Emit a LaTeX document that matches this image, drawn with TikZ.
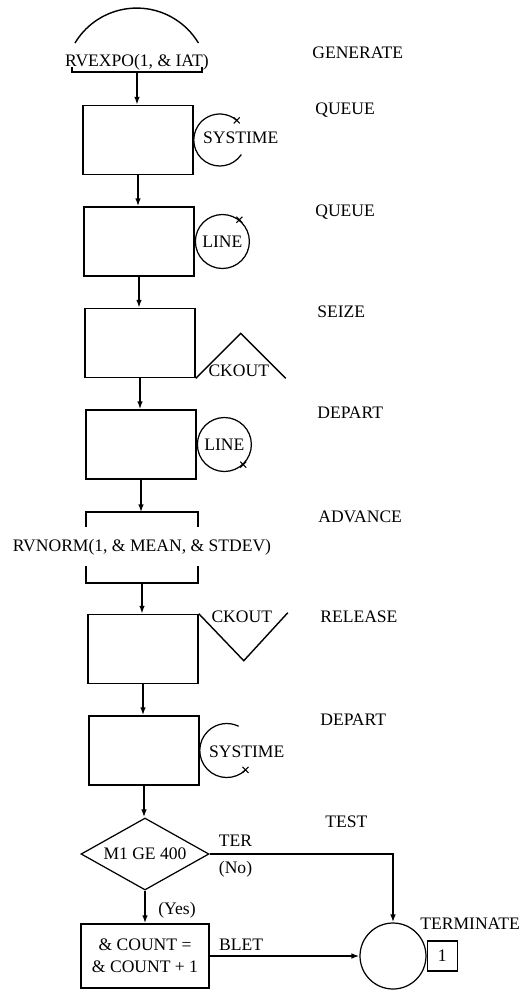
\documentclass[tikz,border=0pt]{standalone}
\usepackage{fontspec}
\setmainfont{Liberation Serif}
\usetikzlibrary{arrows.meta, calc, shapes.geometric}

\tikzset{
  blockbox/.style={draw, line width=0.9pt, minimum width=2.2cm, minimum height=1.38cm, inner sep=0pt},
  lbl/.style={inner sep=0pt},
  ring/.style={line width=0.7pt},
  flow/.style={line width=0.9pt, -{Latex[length=4.5pt,width=3.2pt]}}
}
\newcommand{\crossmark}[1]{\draw[line width=0.6pt] (#1) ++(-3,-3) -- ++(6,6) ++(0,-6) -- ++(-6,6);}

\begin{document}
\begin{tikzpicture}[x=0.02cm, y=-0.02cm, font=\fontsize{10}{12}\selectfont]
  \useasboundingbox (0,0) rectangle (522,992);

  % GENERATE
  \node[lbl] (gen) at (137,62) {RVEXPO(1, \& IAT)};
  \draw[line width=0.8pt] (gen) ++(-62,-19) arc[start angle=211, end angle=329, radius=72];
  \coordinate (genbar) at ($(gen)+(0,10)$);
  \draw[line width=0.8pt] ($(genbar)+(-65,-5)$) -- ($(genbar)+(-65,0)$) -- ($(genbar)+(65,0)$) -- ($(genbar)+(65,-5)$);

  % QUEUE SYSTIME
  \node[blockbox] (q1) at (138,140) {};
  \coordinate (q1c) at ($(q1.east)+(26,0)$);
  \draw[ring] (q1c) ++(34:26) arc[start angle=34, end angle=311, radius=26];
  \crossmark{$(q1c)+(311:26)$}
  \node[lbl, anchor=west] (q1t) at ($(q1.east)+(9,-2)$) {SYSTIME};

  % QUEUE LINE
  \node[blockbox] (q2) at (139,241.5) {};
  \node[lbl, circle, draw, ring, minimum size=1.08cm, anchor=west] (q2c) at (q2.east) {LINE};
  \crossmark{q2c.52}

  % SEIZE CKOUT
  \node[blockbox] (s1) at (140,343) {};
  \draw[line width=0.8pt] (s1.south east) -- ++(45,-45) -- ++(45,45);
  \node[lbl] (s1t) at ($(s1.south east)+(43,-8)$) {CKOUT};

  % DEPART LINE
  \node[blockbox] (d1) at (141,444.5) {};
  \node[lbl, circle, draw, ring, minimum size=1.08cm, anchor=west] (d1c) at (d1.east) {LINE};
  \crossmark{d1c.-47}

  % ADVANCE
  \node[blockbox, draw=none] (adv) at (142,547.5) {};
  \draw[line width=0.9pt] (adv.north west) ++(0,15) -- (adv.north west) -- (adv.north east) -- ++(0,15);
  \draw[line width=0.9pt] (adv.south west) ++(0,-17) -- (adv.south west) -- (adv.south east) -- ++(0,-17);
  \node[lbl] (advt) at (adv) {RVNORM(1, \& MEAN, \& STDEV)};

  % RELEASE CKOUT
  \node[blockbox] (r1) at (143,649) {};
  \draw[line width=0.8pt] (r1.north east) -- ++(45,47) -- ++(44,-48);
  \node[lbl] (r1t) at ($(r1.north east)+(43,3)$) {CKOUT};

  % DEPART SYSTIME
  \node[blockbox] (d2) at (144,750.5) {};
  \coordinate (d2c) at ($(d2.east)+(27,0)$);
  \draw[ring] (d2c) ++(46:27) arc[start angle=46, end angle=296, radius=27];
  \crossmark{$(d2c)+(46:27)$}
  \node[lbl, anchor=west] (d2t) at ($(d2.east)+(9,1.5)$) {SYSTIME};

  % TEST, BLET, TERMINATE
  \node[lbl, diamond, draw, ring, aspect=1.78, minimum width=2.56cm, minimum height=1.44cm] (test) at (145,854) {M1 GE 400};
  \node[blockbox, minimum width=2.56cm, minimum height=1.28cm, align=center, font=\fontsize{10}{12.5}\selectfont] (cnt) at (145,956) {\& COUNT =\\\& COUNT + 1};
  \node[circle, draw, ring, minimum size=1.32cm] (term) at (393,956) {};
  \node[draw, ring, minimum size=0.6cm, inner sep=0pt, anchor=west] (tcount) at (term.east) {1};

  % connectors
  \draw[flow] (genbar) -- (genbar |- q1.north);
  \draw[flow] (q1.south) -- (q1.south |- q2.north);
  \draw[flow] (q2.south) -- (q2.south |- s1.north);
  \draw[flow] (s1.south) -- (s1.south |- d1.north);
  \draw[flow] (d1.south) -- (d1.south |- adv.north);
  \draw[flow] (adv.south) -- (adv.south |- r1.north);
  \draw[flow] (r1.south) -- (r1.south |- d2.north);
  \draw[flow] (d2.south) -- (d2.south |- test.north);
  \draw[flow] (test.south) -- (cnt.north);
  \draw[flow] (test.east) -| (term.north);
  \draw[flow] (cnt.east) -- (term.west);

  % connector labels
  \node[lbl, anchor=south west] (ter) at ($(test.east)+(9,-7)$) {TER};
  \node[lbl, anchor=north west] (no) at ($(test.east)+(9,7)$) {(No)};
  \node[lbl, anchor=west] (yes) at ($(test.south)+(13,20)$) {(Yes)};
  \node[lbl, anchor=south west] (blet) at ($(cnt.east)+(9,-5)$) {BLET};

  % block names
  \node[lbl, anchor=west] (ngen) at (312,53) {GENERATE};
  \node[lbl, anchor=west] (nq1) at (315,110) {QUEUE};
  \node[lbl, anchor=west] (nq2) at (315,212) {QUEUE};
  \node[lbl, anchor=west] (ns1) at (317,312) {SEIZE};
  \node[lbl, anchor=west] (nd1) at (317,413) {DEPART};
  \node[lbl, anchor=west] (nadv) at (318,517) {ADVANCE};
  \node[lbl, anchor=west] (nr1) at (320,617) {RELEASE};
  \node[lbl, anchor=west] (nd2) at (320,720) {DEPART};
  \node[lbl, anchor=west] (ntest) at (325,822) {TEST};
  \node[lbl, anchor=west] (nterm) at (420,924) {TERMINATE};
\end{tikzpicture}
\end{document}
